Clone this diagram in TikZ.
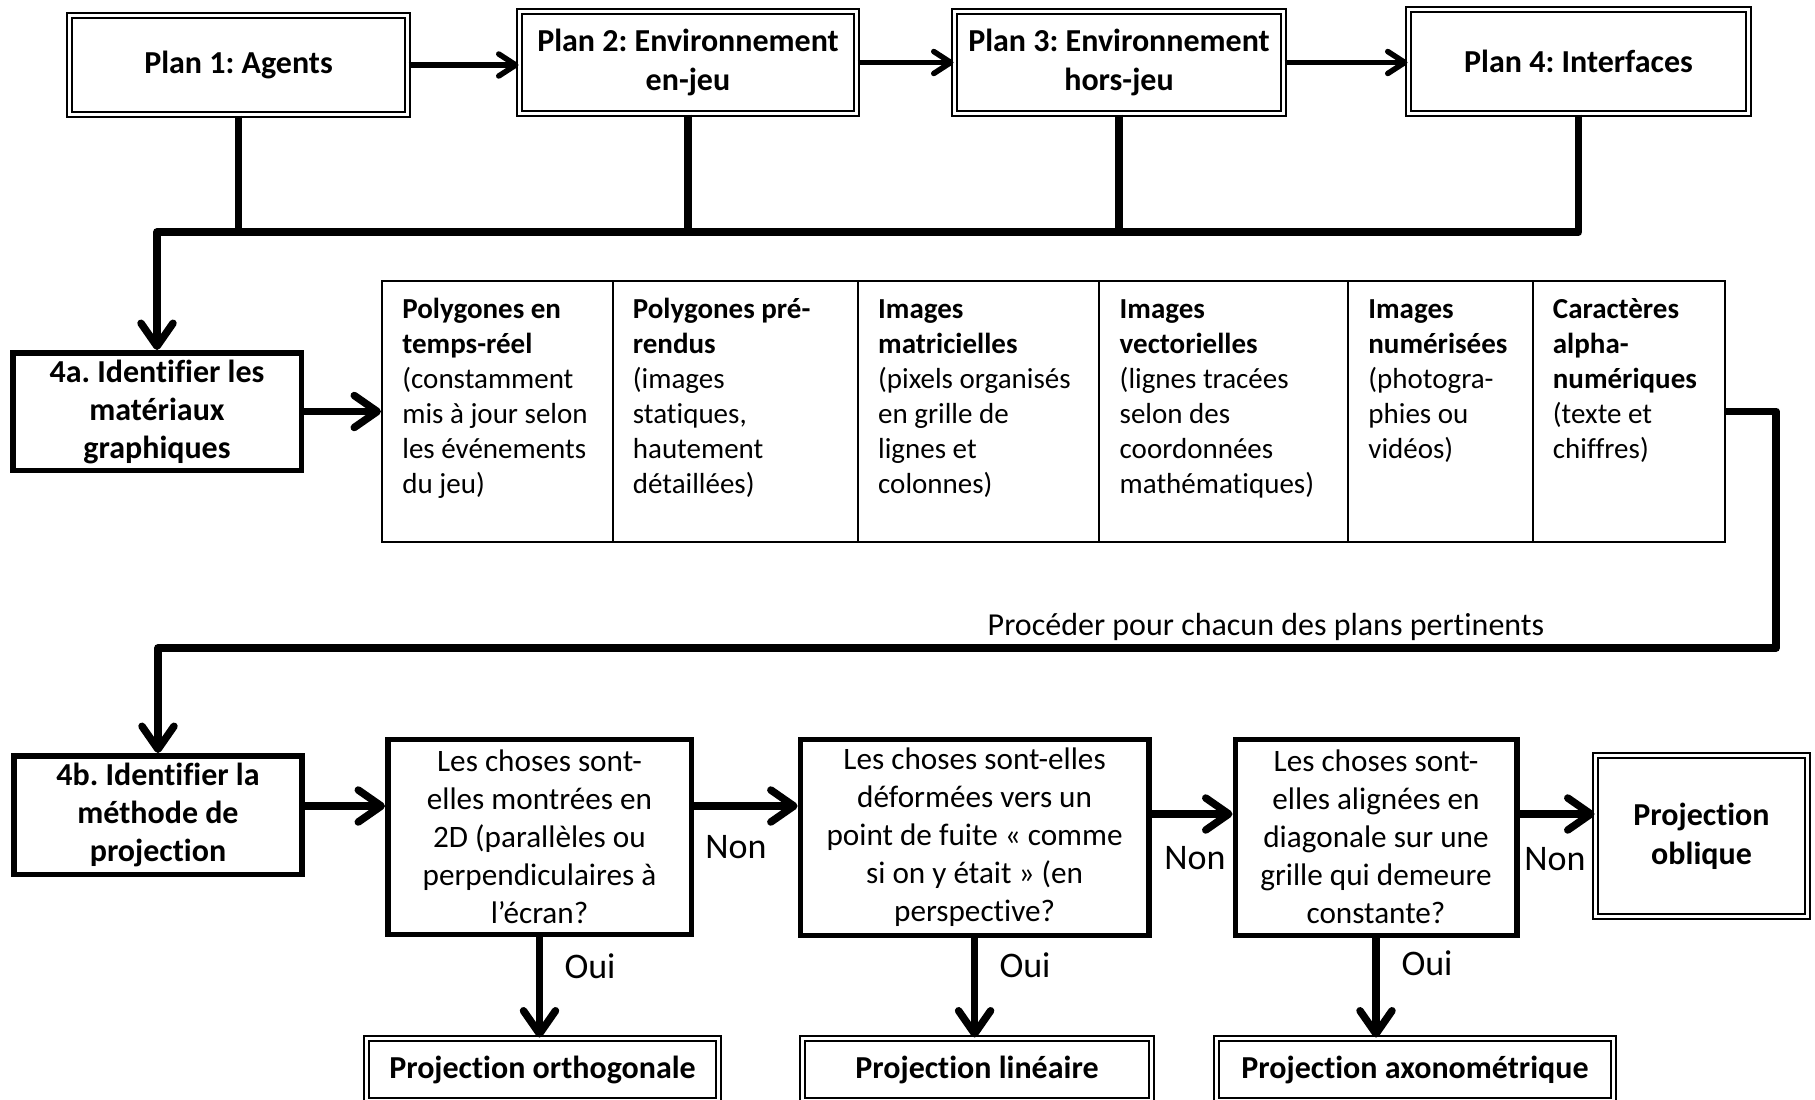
\documentclass[tikz,border=0pt]{standalone}
\usepackage{fontspec}
\setmainfont{Carlito}[Ligatures={NoCommon,NoContextual}]
\usetikzlibrary{arrows.meta}
\frenchspacing
\begin{document}
\begin{tikzpicture}[x=0.5pt,y=-0.5pt,
  dbox/.style={draw, line width=1pt, double=white, double distance=1.5pt, font=\fontsize{16}{19.5}\selectfont\bfseries, align=center, inner sep=0pt},
  sbox/.style={draw, line width=2.75pt, font=\fontsize{16}{19}\selectfont\bfseries, align=center, inner sep=0pt},
  qbox/.style={draw, line width=2.75pt, font=\fontsize{15.6}{19}\selectfont, align=center, inner sep=0pt},
  cell/.style={draw, line width=1pt, inner sep=0pt, minimum height=130.65pt},
  celltext/.style={anchor=north west, inner sep=0pt, align=left, font=\fontsize{14.5}{17.5}\selectfont},
  lab/.style={font=\fontsize{18}{21}\selectfont, inner sep=0pt},
  thinarrow/.style={line width=2.75pt, -{Straight Barb[length=8.5pt,width=11pt,round]}},
  bigline/.style={line width=3.75pt, line join=round},
  bigarrow/.style={bigline, -{Straight Barb[length=11.5pt,width=16pt,round]}},
]
\frenchspacing
\clip (0,0) rectangle (1815,1099);
\fill[white] (0,0) rectangle (1815,1099);

% top plan boxes
\node[dbox, minimum width=169pt, minimum height=49.5pt] (P1) at (238.5,65) {Plan 1: Agents};
\node[dbox, minimum width=168.5pt, minimum height=51pt] (P2) at (688,62.5) {Plan 2: Environnement\\en-jeu};
\node[dbox, minimum width=164.5pt, minimum height=51pt] (P3) at (1119,62.5) {Plan 3: Environnement\\hors-jeu};
\node[dbox, minimum width=170pt, minimum height=52pt] (P4) at (1578.5,61.5) {Plan 4: Interfaces};

% step boxes
\node[sbox, minimum width=144.25pt, minimum height=58.75pt] (A4) at (157,411.5) {4a. Identifier les\\matériaux\\graphiques};
\node[sbox, minimum width=144pt, minimum height=59.25pt] (B4) at (158,815) {4b. Identifier la\\méthode de\\projection};

% table cells
\node[cell, minimum width=115.25pt] (c1) at (497.25,411.35) {};
\node[cell, minimum width=122.65pt] (c2) at (735.15,411.35) {};
\node[cell, minimum width=120.75pt] (c3) at (978.55,411.35) {};
\node[cell, minimum width=124.35pt] (c4) at (1223.65,411.35) {};
\node[cell, minimum width=92.25pt] (c5) at (1440.25,411.35) {};
\node[cell, minimum width=96.25pt] (c6) at (1628.75,411.35) {};

\node[celltext] (t1) at (402,293.5) {\strut\textbf{Polygones en}\\\textbf{temps-réel}\\(constamment\\mis à jour selon\\les événements\\du jeu)};
\node[celltext] (t2) at (632.5,293.5) {\strut\textbf{Polygones pré-}\\\textbf{rendus}\\(images\\statiques,\\hautement\\détaillées)};
\node[celltext] (t3) at (877.8,293.5) {\strut\textbf{Images}\\\textbf{matricielles}\\(pixels organisés\\en grille de\\lignes et\\colonnes)};
\node[celltext] (t4) at (1119.3,293.5) {\strut\textbf{Images}\\\textbf{vectorielles}\\(lignes tracées\\selon des\\coordonnées\\mathématiques)};
\node[celltext] (t5) at (1368,293.5) {\strut\textbf{Images}\\\textbf{numérisées}\\(photogra-\\phies ou\\vidéos)};
\node[celltext] (t6) at (1552.5,293.5) {\strut\textbf{Caractères}\\\textbf{alpha-}\\\textbf{numériques}\\(texte et\\chiffres)};

% question boxes
\node[qbox, minimum width=151.75pt, minimum height=97.5pt] (Q1) at (539.5,836.75) {Les choses sont-\\elles montrées en\\2D (parallèles ou\\perpendiculaires à\\l’écran?};
\node[qbox, minimum width=174.25pt, minimum height=98pt] (Q2) at (974.6,837.25) {Les choses sont-elles\\déformées vers un\\point de fuite « comme\\si on y était » (en\\perspective?};
\node[qbox, minimum width=140.75pt, minimum height=98pt] (Q3) at (1376,837.25) {Les choses sont-\\elles alignées en\\diagonale sur une\\grille qui demeure\\constante?};

% result boxes
\node[dbox, minimum width=106pt, minimum height=80.5pt] (PO) at (1701.5,836) {Projection\\oblique};
\node[dbox, minimum width=176pt, minimum height=31pt] (Ortho) at (542.5,1069.5) {Projection orthogonale};
\node[dbox, minimum width=174.85pt, minimum height=31pt] (Lin) at (977,1069.5) {Projection linéaire};
\node[dbox, minimum width=198.35pt, minimum height=31pt] (Axo) at (1415,1069.5) {Projection axonométrique};

% top connectors
\draw[thinarrow] (P1.east) -- (P1.east -| P2.west);
\draw[thinarrow] (P2.east) -- (P2.east -| P3.west);
\draw[thinarrow] (P3.east) -- (P3.east -| P4.west);

\coordinate (bus) at (157,232);
\draw[bigline] (P1.south) -- (P1.south |- bus);
\draw[bigline] (P2.south) -- (P2.south |- bus);
\draw[bigline] (P3.south) -- (P3.south |- bus);
\draw[bigarrow] (P4.south) |- (bus) -- (A4.north);

\draw[bigarrow] (A4.east) -- (A4.east -| c1.west);

\coordinate (loopR) at (1776,648);
\coordinate (loopL) at (158,648);
\draw[bigarrow] (c6.east) -| (loopR) -- (loopL) -- (B4.north);
\node[font=\fontsize{16}{19}\selectfont, anchor=base, inner sep=0pt] (proc) at (1266,635) {Procéder pour chacun des plans pertinents};

\coordinate (r1) at (0,806);
\coordinate (r2) at (0,814);
\draw[bigarrow] (B4.east |- r1) -- (Q1.west |- r1);
\draw[bigarrow] (Q1.east |- r1) -- (Q2.west |- r1);
\draw[bigarrow] (Q2.east |- r2) -- (Q3.west |- r2);
\draw[bigarrow] (Q3.east |- r2) -- (PO.west |- r2);

\draw[bigarrow] (Q1.south) -- (Q1.south |- Ortho.north);
\draw[bigarrow] (Q2.south) -- (Q2.south |- Lin.north);
\draw[bigarrow] (Q3.south) -- (Q3.south |- Axo.north);

\node[lab] (non1) at (736,847) {Non};
\node[lab] (non2) at (1195,858) {Non};
\node[lab] (non3) at (1555,859) {Non};
\node[lab] (oui1) at (590,966) {Oui};
\node[lab] (oui2) at (1025,965) {Oui};
\node[lab] (oui3) at (1427,963) {Oui};
\end{tikzpicture}
\end{document}
